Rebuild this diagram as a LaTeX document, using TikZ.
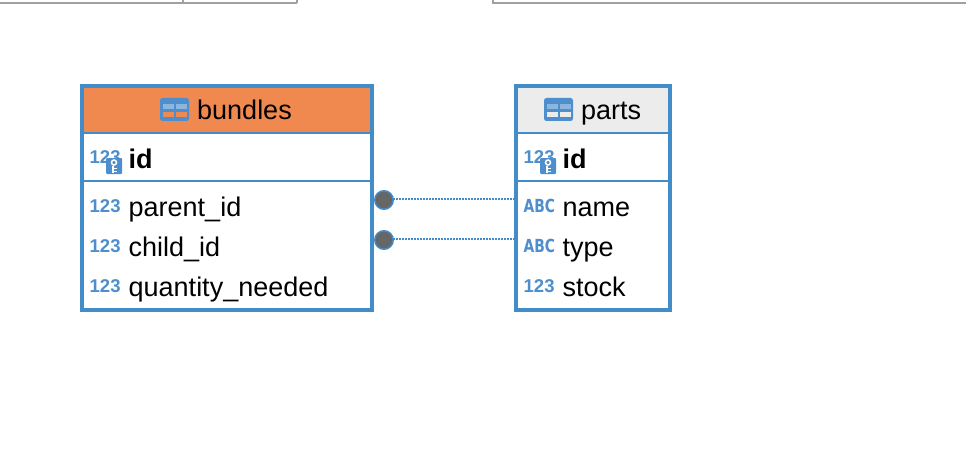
\documentclass[tikz,border=0pt]{standalone}
\usepackage{fontspec}
\setmainfont{Liberation Sans}
\newfontfamily\abcfont{DejaVu Sans}
\definecolor{erblue}{HTML}{428CC9}
\definecolor{icoblue}{HTML}{4F8ECC}
\definecolor{icolight}{HTML}{8DB6DE}
\definecolor{headorange}{HTML}{F0894F}
\definecolor{headgrey}{HTML}{ECECEC}
\definecolor{dotgrey}{HTML}{666666}
\definecolor{tabgrey}{HTML}{A0A0A0}
\tikzset{
  x=1pt,y=-1pt,
  tablebox/.style={draw=erblue,line width=4pt,fill=none,inner sep=0pt,outer sep=0pt,rectangle,anchor=north west},
  headband/.style={fill=#1,draw=none,inner sep=0pt,outer sep=0pt,rectangle,anchor=north west},
  rule/.style={erblue,line width=2pt},
  coltext/.style={font=\fontsize{27}{27}\selectfont,anchor=base west,inner sep=0pt,text=black},
  keytext/.style={font=\fontsize{27}{27}\selectfont\bfseries,anchor=base west,inner sep=0pt,text=black},
  numtag/.style={font=\fontsize{18.5}{18.5}\selectfont\bfseries,anchor=base west,inner sep=0pt,text=icoblue},
  abctag/.style={font=\abcfont\fontsize{18}{18}\selectfont\bfseries,anchor=base west,inner sep=0pt,text=icoblue},
  fkdot/.style={circle,fill=dotgrey,draw=erblue,line width=1.5pt,minimum size=18.5pt,inner sep=0pt,outer sep=0pt},
  fkline/.style={erblue,line width=1.5pt,dash pattern=on 1.5pt off 1.5pt},
  tabline/.style={tabgrey,line width=2pt},
}
\newcommand{\tableicon}[3]{% x, y, lower cell colour
  \fill[icoblue,rounded corners=2.5pt] (#1,#2) rectangle ++(29,23);
  \fill[icolight] (#1+3,#2+6) rectangle ++(11,5.5);
  \fill[icolight] (#1+16,#2+6) rectangle ++(10.5,5.5);
  \fill[#3] (#1+3,#2+14) rectangle ++(11,5.5);
  \fill[#3] (#1+16,#2+14) rectangle ++(10.5,5.5);
}
\newcommand{\keyicon}[2]{% x, y of top left
  \fill[icoblue,rounded corners=1pt] (#1,#2) rectangle ++(16,16);
  \draw[white,line width=1.5pt] (#1+8,#2+4.5) circle[radius=2.5pt];
  \draw[white,line width=1.6pt] (#1+7,#2+7.5) -- (#1+7,#2+14.5) (#1+7,#2+10.5) -- (#1+10.5,#2+10.5) (#1+7,#2+13.5) -- (#1+10.5,#2+13.5);
}
\begin{document}
\begin{tikzpicture}
\useasboundingbox[fill=white] (0,0) rectangle (966,468);
% clipped window tabs at the top edge
\draw[tabline] (0,3) -- (297,3) (297,3) -- (297,0) (183,3) -- (183,0);
\draw[tabline] (493,0) -- (493,3) -- (966,3);
% bundles
\node[headband=headorange,minimum width=290pt,minimum height=46pt] (bhead) at (82,86) {};
\node[tablebox,minimum width=290pt,minimum height=224pt] (bundlesbox) at (82,86) {};
\draw[rule] (84,133.3) -- (370,133.3);
\draw[rule] (84,181) -- (370,181);
\tableicon{160}{98}{headorange}
\node[coltext] (btitle) at (197,120) {bundles};
\node[numtag] (bidn) at (89.5,163) {123};
\keyicon{106}{158}
\node[keytext] (bid) at (128.5,168) {id};
\node[numtag] (bn1) at (89.5,212) {123};
\node[coltext] (bparent) at (128.5,216) {parent\_id};
\node[numtag] (bn2) at (89.5,252) {123};
\node[coltext] (bchild) at (128.5,256) {child\_id};
\node[numtag] (bn3) at (89.5,292) {123};
\node[coltext] (bqty) at (128.5,296) {quantity\_needed};
% parts
\node[headband=headgrey,minimum width=154pt,minimum height=46pt] (phead) at (516,86) {};
\node[tablebox,minimum width=154pt,minimum height=224pt] (partsbox) at (516,86) {};
\draw[rule] (518,133.3) -- (668,133.3);
\draw[rule] (518,181) -- (668,181);
\tableicon{544}{98}{headgrey}
\node[coltext] (ptitle) at (581,120) {parts};
\node[numtag] (pidn) at (523.5,163) {123};
\keyicon{540}{158}
\node[keytext] (pid) at (562.5,168) {id};
\node[abctag] (pa1) at (523.5,212) {\scalebox{0.77}[1]{ABC}};
\node[coltext] (pname) at (562.5,216) {name};
\node[abctag] (pa2) at (523.5,252) {\scalebox{0.77}[1]{ABC}};
\node[coltext] (ptype) at (562.5,256) {type};
\node[numtag] (pn3) at (523.5,292) {123};
\node[coltext] (pstock) at (562.5,296) {stock};
% relations
\node[fkdot] (fk1) at (384,200) {};
\node[fkdot] (fk2) at (384,240) {};
\draw[fkline] ([yshift=1pt]fk1.east) -- ([yshift=1pt]fk1.east -| partsbox.west);
\draw[fkline] ([yshift=1pt]fk2.east) -- ([yshift=1pt]fk2.east -| partsbox.west);
\end{tikzpicture}
\end{document}
